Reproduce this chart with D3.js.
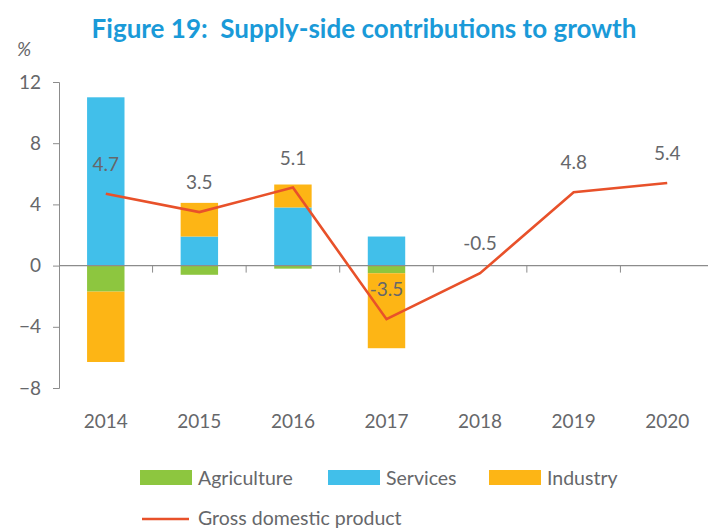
<!DOCTYPE html>
<html>
<head>
<meta charset="utf-8">
<script src="https://cdn.jsdelivr.net/npm/d3@7"></script>
<style>
  body { margin: 0; background: #fff; }
  text { font-family: Lato, "Open Sans", sans-serif; }
</style>
</head>
<body>
<div id="chart"></div>
<script>
// data
var years = ["2014", "2015", "2016", "2017", "2018", "2019", "2020"];
var agriculture = [-1.7, -0.6, -0.2, -0.5, 0, 0, 0];
var services = [11.0, 1.9, 3.8, 1.9, 0, 0, 0];
var industry = [-4.6, 2.2, 1.5, -4.9, 0, 0, 0];
var gdp = [4.7, 3.5, 5.1, -3.5, -0.5, 4.8, 5.4];
var yTicks = [-8, -4, 0, 4, 8, 12];

var seriesNames = ["Agriculture", "Services", "Industry"];
var colors = { "Agriculture": "#8dc63f", "Services": "#41bfea", "Industry": "#fdb515" };
var lineColor = "#e8512a";
var textColor = "#66676a";
var axisColor = "#8c8c8c";

var W = 708, H = 529;

var svg = d3.select("#chart").append("svg")
  .attr("width", W)
  .attr("height", H);

svg.append("rect").attr("width", W).attr("height", H).attr("fill", "#fff");

/* scales */
var x = d3.scaleBand()
  .domain(years)
  .range([59, 714])
  .padding(0);

var y = d3.scaleLinear()
  .domain([-8, 12])
  .range([388, 82]);

var bw = x.bandwidth();

/* build rows for the stack */
var rows = years.map(function (yr, i) {
  return { year: yr, Agriculture: agriculture[i], Services: services[i], Industry: industry[i] };
});

var stacked = d3.stack()
  .keys(seriesNames)
  .offset(d3.stackOffsetDiverging)(rows);

/* title */
svg.append("text")
  .attr("x", 364)
  .attr("y", 38)
  .attr("text-anchor", "middle")
  .style("white-space", "pre")
  .style("font-size", "26px")
  .style("font-weight", "bold")
  .attr("fill", "#1a9ad8")
  .text("Figure 19:  Supply-side contributions to growth");

svg.append("text")
  .attr("x", 17)
  .attr("y", 56)
  .style("font-size", "19px")
  .style("font-style", "italic")
  .attr("fill", textColor)
  .text("%");

/* y axis */
var yAxis = svg.append("g")
  .attr("transform", "translate(59,0)")
  .call(d3.axisLeft(y).tickValues(yTicks).tickSize(6).tickPadding(12));
yAxis.select(".domain").attr("stroke", axisColor);
yAxis.selectAll(".tick line").attr("stroke", axisColor);
yAxis.selectAll(".tick text")
  .attr("fill", textColor)
  .style("font-size", "19px")
  .style("font-family", "Lato, sans-serif");

/* bars */
svg.append("g").selectAll("g")
  .data(stacked)
  .enter().append("g")
  .attr("fill", function (s) { return colors[s.key]; })
  .selectAll("rect")
  .data(function (s) { return s; })
  .enter().append("rect")
  .attr("x", function (d) { return x(d.data.year) + bw * 0.3; })
  .attr("width", bw * 0.4)
  .attr("y", function (d) { return y(Math.max(d[0], d[1])); })
  .attr("height", function (d) { return Math.abs(y(d[0]) - y(d[1])); });

/* zero line and x ticks at band edges */
svg.append("line")
  .attr("x1", 59).attr("x2", W)
  .attr("y1", y(0)).attr("y2", y(0))
  .attr("stroke", axisColor)
  .attr("stroke-width", 1.2);

svg.append("g").selectAll("line")
  .data(years)
  .enter().append("line")
  .attr("x1", function (d) { return x(d) + bw; })
  .attr("x2", function (d) { return x(d) + bw; })
  .attr("y1", y(0))
  .attr("y2", y(0) + 7)
  .attr("stroke", axisColor);

/* x labels */
svg.append("g").selectAll("text")
  .data(years)
  .enter().append("text")
  .attr("x", function (d) { return x(d) + bw / 2; })
  .attr("y", 428)
  .attr("text-anchor", "middle")
  .attr("fill", textColor)
  .style("font-size", "19px")
  .text(function (d) { return d; });

/* gdp line */
var line = d3.line()
  .x(function (d, i) { return x(years[i]) + bw / 2; })
  .y(function (d) { return y(d); });

svg.append("path")
  .datum(gdp)
  .attr("d", line)
  .attr("fill", "none")
  .attr("stroke", lineColor)
  .attr("stroke-width", 2.6);

svg.append("g").selectAll("text")
  .data(gdp)
  .enter().append("text")
  .attr("x", function (d, i) { return x(years[i]) + bw / 2; })
  .attr("y", function (d) { return y(d) - 23; })
  .attr("text-anchor", "middle")
  .attr("fill", textColor)
  .style("font-size", "19px")
  .text(function (d) { return d.toFixed(1); });

/* legend */
var legendX = [140, 328, 489];
var leg = svg.append("g").selectAll("g")
  .data(seriesNames)
  .enter().append("g")
  .attr("transform", function (d, i) { return "translate(" + legendX[i] + ",470)"; });

leg.append("rect")
  .attr("width", 52)
  .attr("height", 15)
  .attr("fill", function (d) { return colors[d]; });

leg.append("text")
  .attr("x", 58)
  .attr("y", 15)
  .attr("fill", textColor)
  .style("font-size", "19.5px")
  .text(function (d) { return d; });

svg.append("line")
  .attr("x1", 142).attr("x2", 189)
  .attr("y1", 519).attr("y2", 519)
  .attr("stroke", lineColor)
  .attr("stroke-width", 2.6);

svg.append("text")
  .attr("x", 198)
  .attr("y", 525)
  .attr("fill", textColor)
  .style("font-size", "19.5px")
  .text("Gross domestic product");
</script>
</body>
</html>
